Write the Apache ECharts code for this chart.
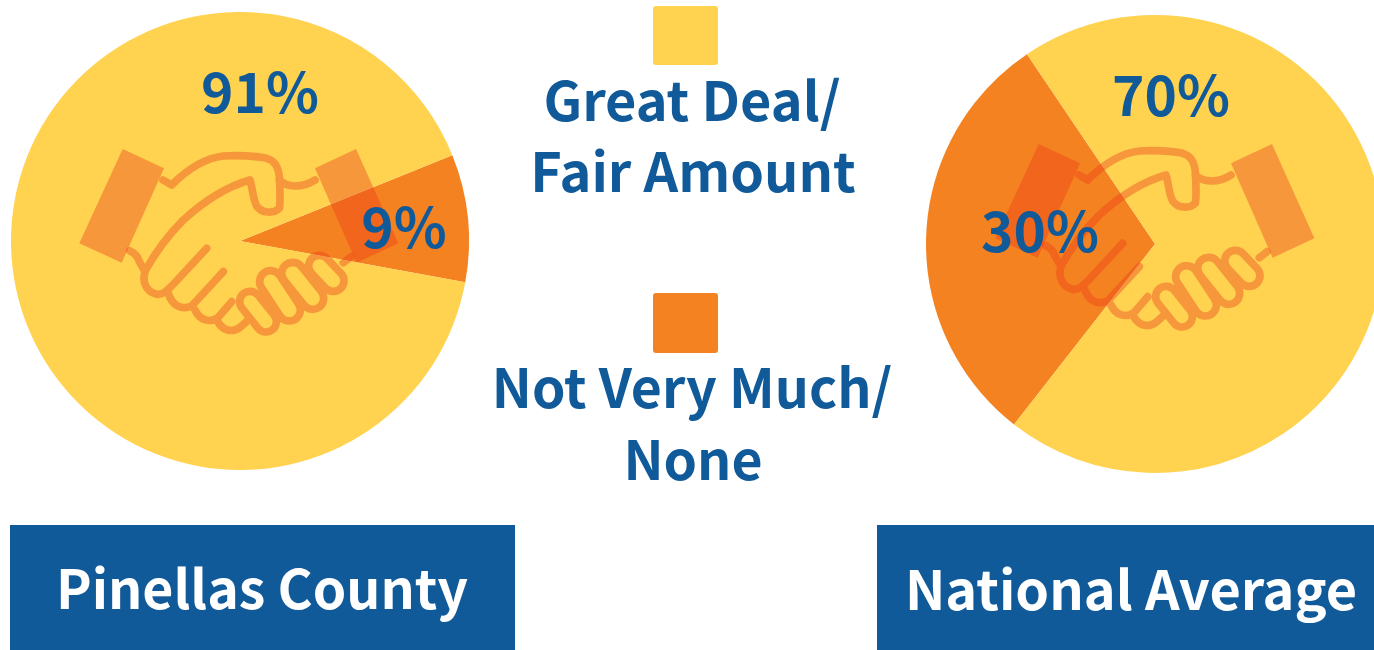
<!DOCTYPE html>
<html><head><meta charset="utf-8">
<style>html,body{margin:0;padding:0;background:#fff}#c{width:1374px;height:650px}</style>
<script src="https://cdn.jsdelivr.net/npm/echarts@6/dist/echarts.min.js"></script>
</head><body><div id="c"></div>
<script>
const categories = ['Great Deal/\nFair Amount', 'Not Very Much/\nNone'];
const regions = ['Pinellas County', 'National Average'];
const pinellasValues = [91, 9];
const nationalValues = [70, 30];

const YELLOW = '#FFD250', ORANGE = '#F58220', BLUE = '#115A9A';
const FONT = '"Noto Sans CJK SC","Noto Sans",sans-serif';
const ICON_COLOR = '#EB3518', ICON_OPACITY = 0.375;

function capsule(p, q, r) {
  const dx = q[0]-p[0], dy = q[1]-p[1], l = Math.hypot(dx, dy);
  const nx = -dy/l*r, ny = dx/l*r;
  return `M${p[0]+nx} ${p[1]+ny}L${q[0]+nx} ${q[1]+ny}A${r} ${r} 0 0 0 ${q[0]-nx} ${q[1]-ny}L${p[0]-nx} ${p[1]-ny}A${r} ${r} 0 0 0 ${p[0]+nx} ${p[1]+ny}Z`;
}
// handshake outline, drawn in a 3x local space
const handPath = [
  'M309 150L335 165C375 125 430 85 490 78C530 75 590 78 620 85C645 92 655 110 658 140',
  'C660 175 662 210 658 235C640 252 605 250 590 228C578 205 578 175 570 150',
  'C500 170 430 215 370 270C325 315 285 370 257 420C245 450 255 485 290 493C310 495 320 482 335 468L440 355',
  'M325 490C335 525 365 542 395 528L490 425',
  'M405 540C420 572 450 580 475 562L515 515',
  'M470 568C485 602 515 610 540 592L570 565',
  'M209 362C226 370 234 380 238 395L255 425',
  'M658 150C680 172 725 176 765 150',
  'M873 380L850 398',
  capsule([570,515],[618,575],31),
  capsule([632,455],[688,540],33),
  capsule([698,430],[758,505],33),
  capsule([778,408],[820,452],32)
].join('');
const cuffs = [
  'M188 57L312 115L185 398L58 340Z',
  'M888 57L765 115L890 398L1015 340Z'
];
const iconOrigins = [[60, 130], [976, 125]];

function renderIcon(params, api) {
  return {
    type: 'group', x: api.value(0), y: api.value(1), scaleX: 1/3, scaleY: 1/3, silent: true,
    children: [
      {type: 'path', shape: {pathData: cuffs[0]}, style: {fill: ICON_COLOR, opacity: ICON_OPACITY}},
      {type: 'path', shape: {pathData: cuffs[1]}, style: {fill: ICON_COLOR, opacity: ICON_OPACITY}},
      {type: 'path', shape: {pathData: handPath},
       style: {fill: 'none', stroke: ICON_COLOR, lineWidth: 23, lineJoin: 'round', lineCap: 'round', opacity: ICON_OPACITY}}
    ]
  };
}
function text(t, x, y, size, color) {
  return {type: 'text', x, y, z: 10, silent: true,
    style: {text: t, fill: color || BLUE, font: `700 ${size}px ${FONT}`, textAlign: 'center', textVerticalAlign: 'middle'}};
}
function banner(x, w) {
  return {type: 'rect', z: 6, silent: true, shape: {x, y: 525, width: w, height: 125}, style: {fill: BLUE}};
}
function swatch(y, h, c) {
  return {type: 'rect', z: 6, silent: true, shape: {x: 653, y, width: 65, height: h, r: 3}, style: {fill: c}};
}
function pieSeries(name, center, startAngle, vals) {
  return {
    type: 'pie', name, center, radius: 229, startAngle, clockwise: true, silent: true, z: 2,
    label: {show: false}, labelLine: {show: false}, animation: false,
    data: [
      {name: categories[1], value: vals[1], itemStyle: {color: ORANGE}},
      {name: categories[0], value: vals[0], itemStyle: {color: YELLOW}}
    ]
  };
}
const [l1, l2] = categories.map(c => c.split('\n'));
const chart = echarts.init(document.getElementById('c'), null, {renderer: 'canvas'});
chart.setOption({
  animation: false,
  backgroundColor: '#fff',
  series: [
    pieSeries(regions[0], [240, 241], 22, pinellasValues),
    pieSeries(regions[1], [1155, 244], 232, nationalValues),
    {type: 'custom', coordinateSystem: 'none', z: 5, silent: true, animation: false,
     renderItem: renderIcon, data: iconOrigins}
  ],
  graphic: [
    swatch(6, 59, YELLOW),
    swatch(293, 60, ORANGE),
    banner(10, 505),
    banner(877, 497),
    text(pinellasValues[0] + '%', 260, 92, 55),
    text(pinellasValues[1] + '%', 404, 227, 55),
    text(nationalValues[0] + '%', 1171, 95, 55),
    text(nationalValues[1] + '%', 1040, 231, 55),
    text(l1[0], 692, 100, 54),
    text(l1[1], 693, 171, 54),
    text(l2[0], 692, 388, 53.6),
    text(l2[1], 693, 460, 53.6),
    text(regions[0], 262, 589, 53.6, '#fff'),
    text(regions[1], 1131, 589, 54, '#fff')
  ]
});
</script></body></html>
